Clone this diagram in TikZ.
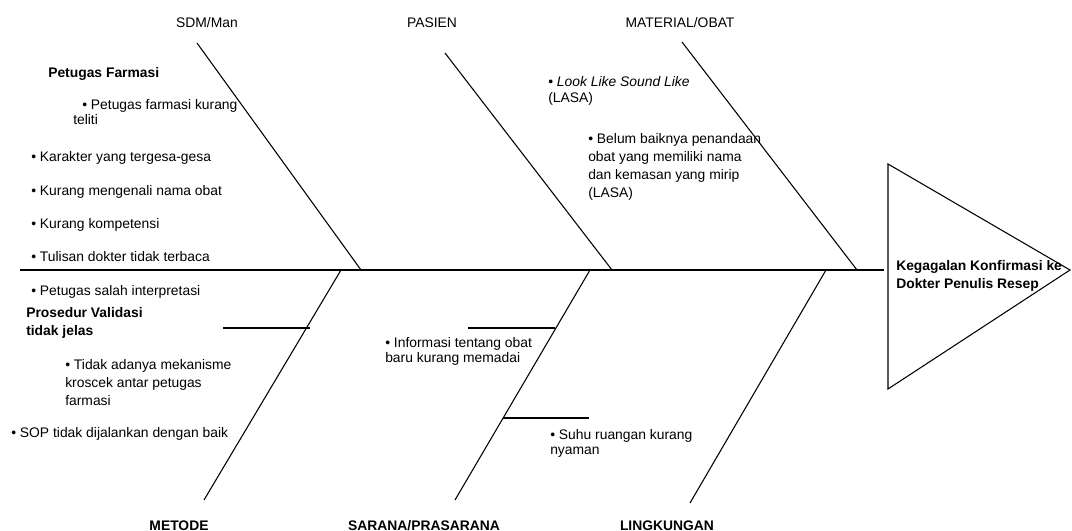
\documentclass[tikz,border=0pt]{standalone}
\usepackage{fontspec}
\setmainfont{Liberation Sans}
\usetikzlibrary{positioning}

\tikzset{
  bone/.style={line width=0.8pt},
  cause/.style={anchor=base west, align=left, inner sep=0pt,
    font=\fontsize{10.4}{12}\selectfont},
  cause15/.style={cause, font=\fontsize{10.4}{11.25}\selectfont},
  cause18/.style={cause, font=\fontsize{10.4}{13.5}\selectfont},
  category/.style={anchor=base, inner sep=0pt, font=\fontsize{10.4}{12}\selectfont},
}

\begin{document}
\begin{tikzpicture}[x=0.75pt, y=-0.75pt]
    \useasboundingbox (0,0) rectangle (1072,531);

    % spine and head
    \coordinate (tail) at (20,270);
    \coordinate (neck) at (884,270);
    \coordinate (headtop) at (888,164);
    \coordinate (headbot) at (888,389);
    \coordinate (nose) at (1070,270);
    \draw[bone] (tail) -- (neck);
    \draw[bone, line join=miter] (headtop) -- (nose) -- (headbot) -- cycle;
    \node[cause18, font=\fontsize{10.4}{13.5}\selectfont\bfseries] (effect) at (896,289)
      {Kegagalan Konfirmasi ke\\Dokter Penulis Resep};

    % upper bones
    \coordinate (sdmtop) at (197,43);
    \coordinate (sdmjoin) at (361,270);
    \coordinate (pasientop) at (445,53);
    \coordinate (pasienjoin) at (612,270);
    \coordinate (materialtop) at (682,42);
    \coordinate (materialjoin) at (857,270);
    \draw[bone] (sdmtop) -- (sdmjoin);
    \draw[bone] (pasientop) -- (pasienjoin);
    \draw[bone] (materialtop) -- (materialjoin);

    % lower bones
    \coordinate (metodebot) at (204,500);
    \coordinate (metodejoin) at (341,270);
    \coordinate (saranabot) at (455,500);
    \coordinate (saranajoin) at (590,270);
    \coordinate (lingkunganbot) at (690,503);
    \coordinate (lingkunganjoin) at (826,270);
    \draw[bone] (metodebot) -- (metodejoin);
    \draw[bone] (saranabot) -- (saranajoin);
    \draw[bone] (lingkunganbot) -- (lingkunganjoin);

    % small bones
    \coordinate (prosedurA) at (223,328);
    \coordinate (prosedurB) at (310,328);
    \coordinate (informasiA) at (468,328);
    \coordinate (informasiB) at (555,328);
    \coordinate (suhuA) at (503,418);
    \coordinate (suhuB) at (589,418);
    \draw[bone] (prosedurA) -- (prosedurB);
    \draw[bone] (informasiA) -- (informasiB);
    \draw[bone] (suhuA) -- (suhuB);

    % categories
    \node[category] (sdm) at (207,28) {SDM/Man};
    \node[category] (pasien) at (432,28) {PASIEN};
    \node[category] (material) at (680,28) {MATERIAL/OBAT};
    \node[category, font=\fontsize{10.4}{12}\selectfont\bfseries] (metode) at (179,530) {METODE};
    \node[category, font=\fontsize{10.4}{12}\selectfont\bfseries] (sarana) at (424,530) {SARANA/PRASARANA};
    \node[category, font=\fontsize{10.4}{12}\selectfont\bfseries] (lingkungan) at (667,530) {LINGKUNGAN};

    % causes (multi-line ones sit on the baseline of their last line)
    \node[cause, font=\fontsize{10.4}{12}\selectfont\bfseries] (petugas) at (48,78) {Petugas Farmasi};
    \node[cause15] (teliti) at (73,125) {\hspace*{6.75pt}• Petugas farmasi kurang\\teliti};
    \node[cause] (karakter) at (31,162) {• Karakter yang tergesa-gesa};
    \node[cause] (mengenali) at (31,196) {• Kurang mengenali nama obat};
    \node[cause] (kompetensi) at (31,229) {• Kurang kompetensi};
    \node[cause] (tulisan) at (31,262) {• Tulisan dokter tidak terbaca};
    \node[cause] (interpretasi) at (31,296) {• Petugas salah interpretasi};
    \node[cause18, font=\fontsize{10.4}{13.5}\selectfont\bfseries] (prosedur) at (26,335)
      {Prosedur Validasi\\tidak jelas};
    \node[cause18] (kroscek) at (65,405) {• Tidak adanya mekanisme\\kroscek antar petugas\\farmasi};
    \node[cause] (sop) at (11,437) {• SOP tidak dijalankan dengan baik};
    \node[cause] (lasa) at (548,103) {• \textit{Look Like Sound Like}\\(LASA)};
    \node[cause18] (penandaan) at (588,198)
      {• Belum baiknya penandaan\\obat yang memiliki nama\\dan kemasan yang mirip\\(LASA)};
    \node[cause15] (informasi) at (385,362) {• Informasi tentang obat\\baru kurang memadai};
    \node[cause15] (suhu) at (550,454) {• Suhu ruangan kurang\\nyaman};
\end{tikzpicture}
\end{document}
